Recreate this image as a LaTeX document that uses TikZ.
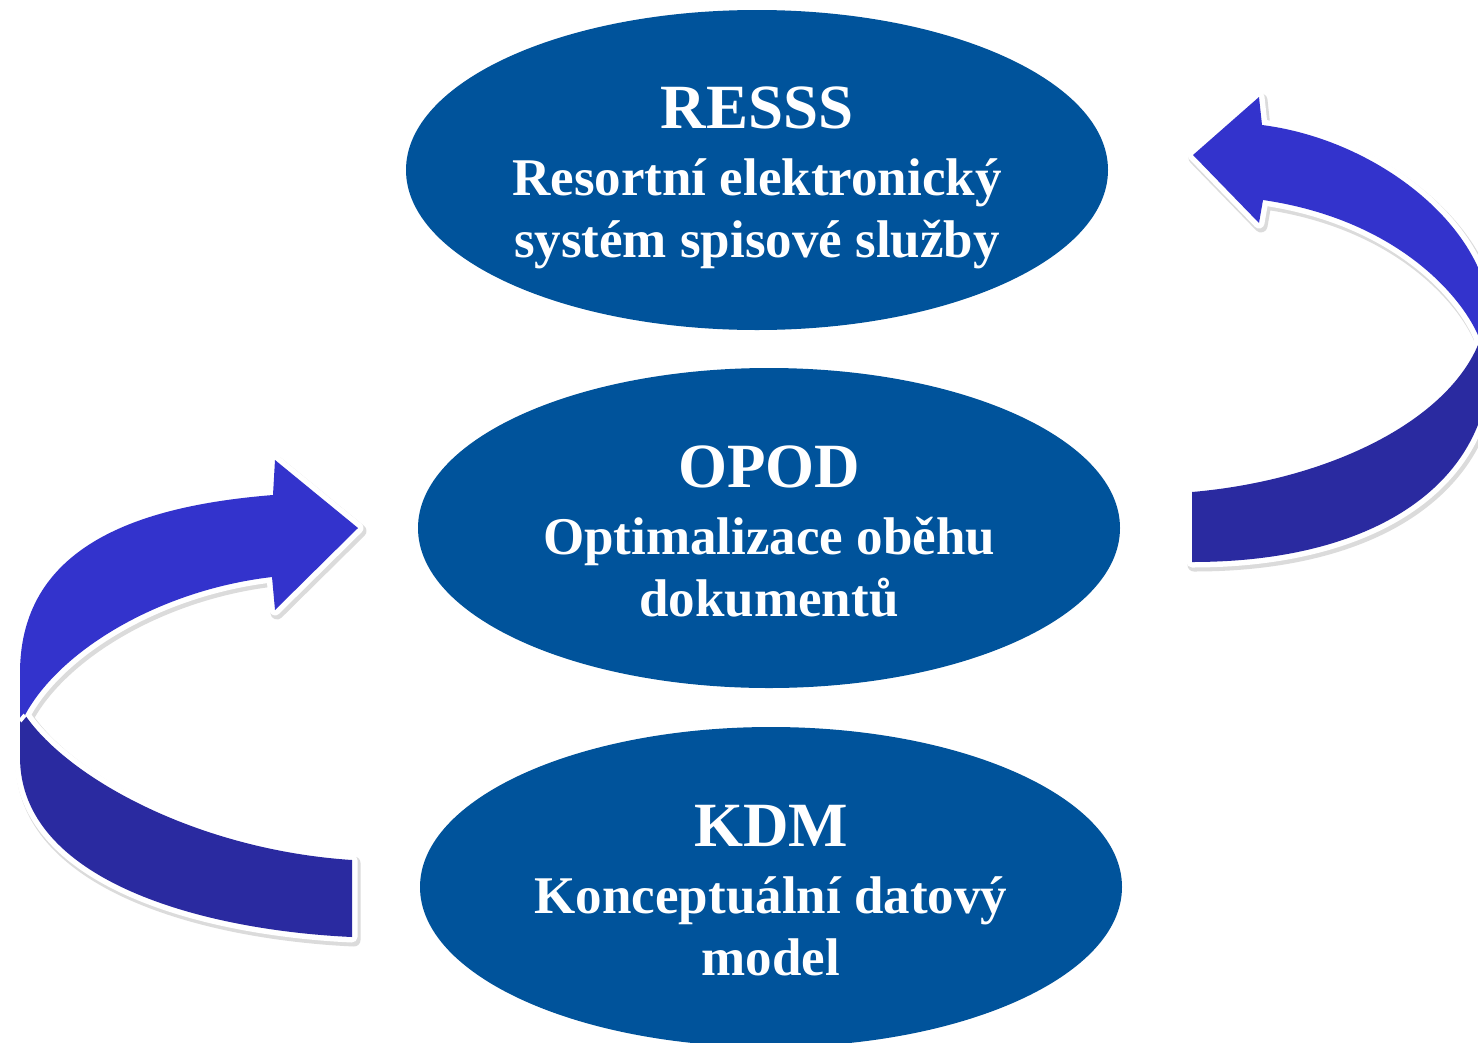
\documentclass[tikz,border=0pt]{standalone}
\usepackage{fontspec}
\setmainfont{Liberation Serif}
\usetikzlibrary{shapes.geometric}
\definecolor{ovalblue}{RGB}{0,83,155}
\definecolor{bandlight}{RGB}{51,51,204}
\definecolor{banddark}{RGB}{42,42,160}
% title line; #1 = strut height (moves the text block down)
\newcommand{\ovaltitle}[2]{{\fontsize{63}{62}\selectfont\rule{0pt}{#1}#2}}
\tikzset{
    oval/.style={
        ellipse, fill=ovalblue, text=white,
        font=\bfseries\fontsize{53}{62}\selectfont,
        minimum width=702pt, minimum height=320pt,
        inner sep=0pt, align=center
    },
    bandrim/.style={
        preaction={draw=black!14, line width=13pt, line join=round,
            transform canvas={shift={(2pt,-3pt)}}},
        draw=white, fill=white, line width=11pt, line join=round
    }
}

\begin{document}
\begin{tikzpicture}[
    x=1pt, y=-1pt,
    lightband/.style={fill=bandlight},
    darkband/.style={fill=banddark},
    seam/.style={draw=white, line width=4pt},
]
\useasboundingbox (0,0) rectangle (1478,1042);
\fill[white] (0,0) rectangle (1478,1042);
\clip (0,0) rectangle (1478,1042);

% ===============================
%        left arrow (up)
% ===============================

\path[bandrim] (358,528) -- (275,460) -- (273,495)
    .. controls (150,505) and (20,540) .. (20,673) -- (20,757)
    .. controls (20,880) and (200,930) .. (352,937) -- (352,860)
    .. controls (200,850) and (70,780) .. (25,715)
    .. controls (60,650) and (160,590) .. (272,577) -- (275,610) -- cycle;
\path[lightband] (358,528) -- (275,460) -- (273,495)
    .. controls (150,505) and (20,540) .. (20,673) -- (20,719) -- (25,715)
    .. controls (60,650) and (160,590) .. (272,577) -- (275,610) -- cycle;
\path[darkband] (25,715) .. controls (70,780) and (200,850) .. (352,860)
    -- (352,937) .. controls (200,930) and (20,880) .. (20,757) -- (20,719) -- cycle;
\draw[seam] (20,721) -- (25,715);

% ===============================
%        right arrow (up)
% ===============================

\path[bandrim] (1193,155) -- (1259,97) -- (1262,125)
    .. controls (1380,140) and (1490,230) .. (1490,320) -- (1490,360)
    .. controls (1490,480) and (1380,562) .. (1192,562) -- (1192,492)
    .. controls (1330,480) and (1450,420) .. (1480,340)
    .. controls (1465,300) and (1400,220) .. (1263,200) -- (1259,223) -- cycle;
\path[lightband] (1193,155) -- (1259,97) -- (1262,125)
    .. controls (1380,140) and (1490,230) .. (1490,320) -- (1490,342) -- (1480,340)
    .. controls (1465,300) and (1400,220) .. (1263,200) -- (1259,223) -- cycle;
\path[darkband] (1480,340) .. controls (1450,420) and (1330,480) .. (1192,492)
    -- (1192,562) .. controls (1380,562) and (1490,480) .. (1490,360) -- (1490,342) -- cycle;
\draw[seam] (1490,343) -- (1480,340);

% ===============================
%             ovals
% ===============================

\node[oval] (resss) at (757,170)
    {\ovaltitle{57pt}{RESSS}\\[5pt]Resortní elektronický\\systém spisové služby};
\node[oval] (opod) at (769,528)
    {\ovaltitle{49pt}{OPOD}\\[5pt]Optimalizace oběhu\\dokumentů};
\node[oval] (kdm) at (771,887)
    {\ovaltitle{49pt}{KDM}\\[5pt]Konceptuální datový\\model};

\end{tikzpicture}
\end{document}
